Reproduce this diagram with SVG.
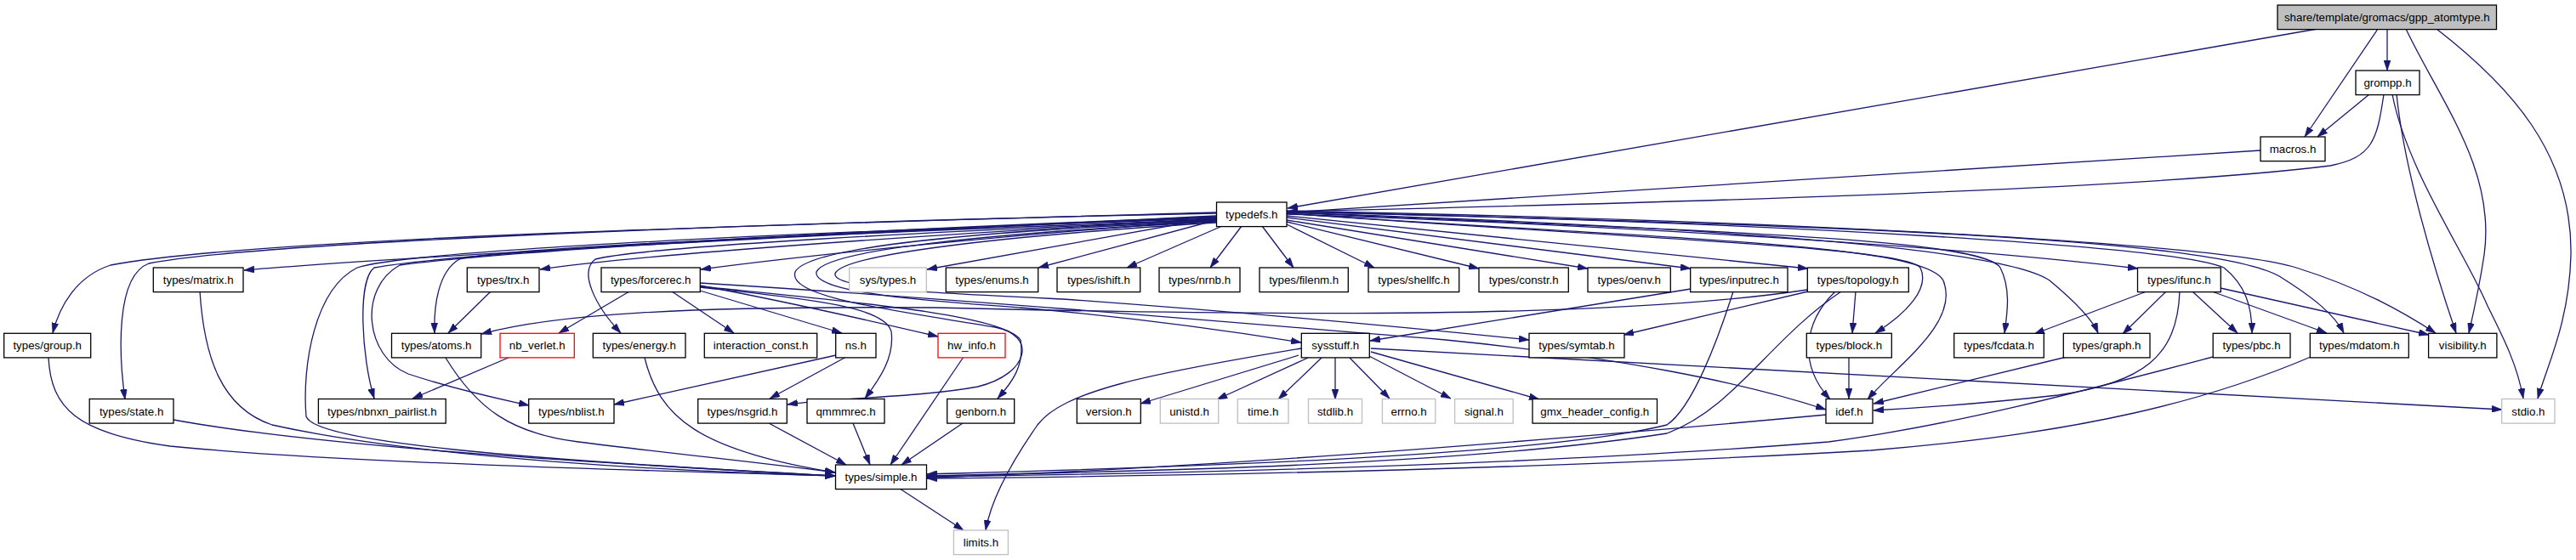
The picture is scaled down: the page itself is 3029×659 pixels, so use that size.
<svg xmlns="http://www.w3.org/2000/svg" width="3029" height="659" viewBox="0 0 3029 659">
<style>
rect{fill:#fff;stroke:#000;stroke-width:1.3}
rect.g{stroke:#bfbfbf}
rect.r{stroke:#ff0000}
rect.top{fill:#bfbfbf}
text{font-family:"Liberation Sans",Arial,sans-serif;font-size:13.3px;fill:#000;text-anchor:middle}
#edges path{fill:none;stroke:#191970;stroke-width:1.3;marker-end:url(#ah)}
</style>
<defs>
<marker id="ah" viewBox="0 0 12 8" markerWidth="12" markerHeight="8" markerUnits="userSpaceOnUse" refX="12" refY="4" orient="auto">
<path d="M0,0 L12,4 L0,8 z" fill="#191970" stroke="#191970" stroke-width="0.6"/>
</marker>
</defs>
<rect x="0" y="0" width="3029" height="659" style="fill:#fff;stroke:none"/>
<g id="edges">
<path d="M2725,34 L1514,245"/>
<path d="M2807,34 L2807,83"/>
<path d="M2796,34 L2710,161"/>
<path d="M2829,34 C2870,120 2935,200 2921,300 C2915,340 2908,370 2903,392"/>
<path d="M2865,34 C2950,100 3025,180 3023,300 C3021,380 2995,430 2984,469"/>
<path d="M2786,111 L2725,161"/>
<path d="M2803,111 C2795,165 2790,185 2740,195 C2500,225 1900,240 1514,249"/>
<path d="M2818,111 C2825,180 2850,280 2888,392"/>
<path d="M2813,111 C2830,200 2900,300 2925,360 C2945,400 2960,430 2967,469"/>
<path d="M2658,177 L1514,250"/>
<path d="M1484,266 L1521,315"/>
<path d="M1460,266 L1423,315"/>
<path d="M1437,266 L1325,315"/>
<path d="M1430,259 L1221,315"/>
<path d="M1430,256 L1090,317"/>
<path d="M1513,264 L1616,315"/>
<path d="M1513,261 L1739,316"/>
<path d="M1513,259 L1867,316"/>
<path d="M1513,256 L1988,316"/>
<path d="M1513,254 L2126,316"/>
<path d="M1513,252 C1900,265 2300,290 2514,316"/>
<path d="M1513,251 C1900,280 2240,290 2258,315 C2270,340 2240,370 2205,392"/>
<path d="M1513,251 C1950,282 2260,285 2285,330 C2305,380 2230,430 2196,470"/>
<path d="M1513,250 C2000,272 2330,280 2352,315 C2365,340 2360,370 2357,392"/>
<path d="M1513,250 C2050,268 2360,295 2410,330 C2440,355 2460,375 2467,392"/>
<path d="M1513,249 C2100,262 2560,290 2615,315 C2640,335 2648,360 2648,392"/>
<path d="M1513,249 C2150,265 2600,280 2680,325 C2720,350 2745,370 2756,392"/>
<path d="M1513,248 C2200,262 2620,290 2700,315 C2780,340 2830,370 2864,392"/>
<path d="M1430,250 C900,265 300,280 130,312 C90,325 70,360 62,392"/>
<path d="M1430,251 C900,262 300,285 175,310 C135,325 140,420 147,470"/>
<path d="M1430,254 C1000,275 500,300 287,318"/>
<path d="M1430,255 C900,275 520,300 440,315 C420,330 425,420 440,469"/>
<path d="M1430,256 C900,275 560,300 470,312 C420,340 430,420 480,440 C540,460 590,470 622,477"/>
<path d="M1430,257 C900,275 480,295 420,315 C370,340 355,430 360,490 C370,520 600,540 982,560"/>
<path d="M1430,258 C1000,275 600,290 540,305 C515,320 510,360 511,392"/>
<path d="M1430,258 C1100,275 750,300 635,317"/>
<path d="M1430,259 C1200,275 950,300 824,317"/>
<path d="M1430,259 C1100,272 760,290 700,305 C680,320 700,360 730,392"/>
<path d="M1430,260 C1150,272 950,290 935,320 C925,350 1050,365 1170,385 C1220,395 1210,440 1150,455 C1080,468 980,468 926,476"/>
<path d="M1430,261 C1150,275 970,295 960,320 C955,345 1100,355 1200,362 C1350,375 1450,390 1530,403"/>
<path d="M1430,262 C1170,278 990,300 982,322 C978,340 1100,345 1250,352 C1500,370 1700,390 1798,400"/>
<path d="M740,343 L657,392"/>
<path d="M790,343 L863,392"/>
<path d="M823,342 L990,392"/>
<path d="M823,336 C900,350 1000,372 1103,396"/>
<path d="M823,333 C1100,350 1400,375 1700,400 C1900,420 2050,450 2147,482"/>
<path d="M823,338 C950,352 1040,360 1048,390 C1052,420 1035,445 1017,469"/>
<path d="M823,337 C1000,355 1180,370 1200,400 C1205,430 1190,450 1173,469"/>
<path d="M995,420 L905,469"/>
<path d="M983,418 L722,476"/>
<path d="M600,420 L485,469"/>
<path d="M577,343 L527,392"/>
<path d="M2125,341 C1900,375 1500,372 1100,362 C800,360 650,370 566,393"/>
<path d="M2126,343 L1909,394"/>
<path d="M2182,343 L2178,392"/>
<path d="M2158,343 C2120,380 2115,430 2152,470"/>
<path d="M2165,343 C2080,400 2040,480 1960,510 C1700,550 1300,555 1090,560"/>
<path d="M1988,340 L1611,401"/>
<path d="M2038,343 C2020,400 1990,480 1960,500 C1800,540 1300,552 1090,558"/>
<path d="M2524,343 L2392,393"/>
<path d="M2547,343 L2496,393"/>
<path d="M2578,343 L2631,392"/>
<path d="M2601,343 L2736,392"/>
<path d="M2611,339 L2856,394"/>
<path d="M2563,343 C2560,420 2520,450 2420,465 C2330,475 2260,480 2203,483"/>
<path d="M2430,420 L2203,475"/>
<path d="M2174,421 L2174,469"/>
<path d="M2602,420 C2450,460 2300,500 2150,520 C1800,548 1400,557 1090,561"/>
<path d="M2717,420 C2600,470 2450,510 2200,530 C1800,553 1400,560 1090,563"/>
<path d="M2148,488 C1800,520 1400,552 1090,562"/>
<path d="M57,421 C60,480 90,510 200,525 C400,545 800,555 982,560"/>
<path d="M204,494 C400,530 800,550 982,560"/>
<path d="M235,343 C240,420 260,480 320,500 C500,540 800,555 982,560"/>
<path d="M524,421 C560,480 600,510 680,520 C800,535 900,545 982,556"/>
<path d="M758,421 C775,490 820,530 982,556"/>
<path d="M904,498 L995,547"/>
<path d="M1003,498 L1023,547"/>
<path d="M1133,420 L1047,547"/>
<path d="M1132,498 L1060,547"/>
<path d="M1058,575 L1133,624"/>
<path d="M1530,410 C1350,440 1250,460 1220,500 C1185,550 1165,590 1159,624"/>
<path d="M1527,418 L1341,475"/>
<path d="M1538,421 L1431,470"/>
<path d="M1554,421 L1503,470"/>
<path d="M1570,421 L1570,470"/>
<path d="M1587,421 L1634,469"/>
<path d="M1608,418 L1706,469"/>
<path d="M1612,414 L1810,470"/>
<path d="M1612,410 L2942,482"/>
</g>
<g id="gpp_atomtype"><rect class="top" x="2678" y="6" width="257.5" height="28.6"/><text x="2806.8" y="25">share/template/gromacs/gpp_atomtype.h</text></g>
<g id="grompp"><rect x="2770" y="83" width="75" height="28.6"/><text x="2807.5" y="102">grompp.h</text></g>
<g id="macros"><rect x="2658" y="161" width="76" height="28.6"/><text x="2696" y="180">macros.h</text></g>
<g id="typedefs"><rect x="1430.5" y="238" width="82.5" height="28.6"/><text x="1471.8" y="257">typedefs.h</text></g>
<g id="matrix"><rect x="180.3" y="315" width="105.7" height="28.6"/><text x="233.2" y="334">types/matrix.h</text></g>
<g id="trx"><rect x="549.3" y="315" width="84.7" height="28.6"/><text x="591.7" y="334">types/trx.h</text></g>
<g id="forcerec"><rect x="707" y="315" width="116.3" height="28.6"/><text x="765.2" y="334">types/forcerec.h</text></g>
<g id="systypes"><rect class="g" x="998.7" y="315" width="90.6" height="28.6"/><text x="1044" y="334">sys/types.h</text></g>
<g id="enums"><rect x="1112.3" y="315" width="108.4" height="28.6"/><text x="1166.5" y="334">types/enums.h</text></g>
<g id="ishift"><rect x="1243" y="315" width="97.7" height="28.6"/><text x="1291.9" y="334">types/ishift.h</text></g>
<g id="nrnb"><rect x="1363" y="315" width="95" height="28.6"/><text x="1410.5" y="334">types/nrnb.h</text></g>
<g id="filenm"><rect x="1481" y="315" width="104.3" height="28.6"/><text x="1533.2" y="334">types/filenm.h</text></g>
<g id="shellfc"><rect x="1609" y="315" width="106.7" height="28.6"/><text x="1662.4" y="334">types/shellfc.h</text></g>
<g id="constr"><rect x="1739" y="315" width="105.3" height="28.6"/><text x="1791.7" y="334">types/constr.h</text></g>
<g id="oenv"><rect x="1867" y="315" width="97.3" height="28.6"/><text x="1915.7" y="334">types/oenv.h</text></g>
<g id="inputrec"><rect x="1987.7" y="315" width="114.3" height="28.6"/><text x="2044.9" y="334">types/inputrec.h</text></g>
<g id="topology"><rect x="2125.3" y="315" width="119" height="28.6"/><text x="2184.8" y="334">types/topology.h</text></g>
<g id="ifunc"><rect x="2513.5" y="315" width="97.8" height="28.6"/><text x="2562.4" y="334">types/ifunc.h</text></g>
<g id="group"><rect x="4.7" y="392.3" width="102" height="28.6"/><text x="55.7" y="411.3">types/group.h</text></g>
<g id="atoms"><rect x="460.5" y="392.3" width="105.2" height="28.6"/><text x="513.1" y="411.3">types/atoms.h</text></g>
<g id="nb_verlet"><rect class="r" x="588" y="392.3" width="87.3" height="28.6"/><text x="631.7" y="411.3">nb_verlet.h</text></g>
<g id="energy"><rect x="697.3" y="392.3" width="108.7" height="28.6"/><text x="751.7" y="411.3">types/energy.h</text></g>
<g id="interaction_const"><rect x="828.3" y="392.3" width="132.4" height="28.6"/><text x="894.5" y="411.3">interaction_const.h</text></g>
<g id="ns"><rect x="982.7" y="392.3" width="47.3" height="28.6"/><text x="1006.4" y="411.3">ns.h</text></g>
<g id="hw_info"><rect class="r" x="1103" y="392.3" width="79" height="28.6"/><text x="1142.5" y="411.3">hw_info.h</text></g>
<g id="sysstuff"><rect x="1530.3" y="392.3" width="80" height="28.6"/><text x="1570.3" y="411.3">sysstuff.h</text></g>
<g id="symtab"><rect x="1798" y="392.3" width="112" height="28.6"/><text x="1854" y="411.3">types/symtab.h</text></g>
<g id="block"><rect x="2124.3" y="392.3" width="100" height="28.6"/><text x="2174.3" y="411.3">types/block.h</text></g>
<g id="fcdata"><rect x="2297.7" y="392.3" width="105.6" height="28.6"/><text x="2350.5" y="411.3">types/fcdata.h</text></g>
<g id="graph"><rect x="2426.3" y="392.3" width="101.7" height="28.6"/><text x="2477.2" y="411.3">types/graph.h</text></g>
<g id="pbc"><rect x="2602.2" y="392.3" width="90.8" height="28.6"/><text x="2647.6" y="411.3">types/pbc.h</text></g>
<g id="mdatom"><rect x="2716.3" y="392.3" width="116" height="28.6"/><text x="2774.3" y="411.3">types/mdatom.h</text></g>
<g id="visibility"><rect x="2855.6" y="392.3" width="80.3" height="28.6"/><text x="2895.8" y="411.3">visibility.h</text></g>
<g id="state"><rect x="105.2" y="469.5" width="98.8" height="28.6"/><text x="154.6" y="488.5">types/state.h</text></g>
<g id="nbnxn_pairlist"><rect x="374.4" y="469.5" width="149.8" height="28.6"/><text x="449.3" y="488.5">types/nbnxn_pairlist.h</text></g>
<g id="nblist"><rect x="621.7" y="469.5" width="100.3" height="28.6"/><text x="671.9" y="488.5">types/nblist.h</text></g>
<g id="nsgrid"><rect x="820.7" y="469.5" width="104.6" height="28.6"/><text x="873" y="488.5">types/nsgrid.h</text></g>
<g id="qmmmrec"><rect x="949" y="469.5" width="91" height="28.6"/><text x="994.5" y="488.5">qmmmrec.h</text></g>
<g id="genborn"><rect x="1113.7" y="469.5" width="79" height="28.6"/><text x="1153.2" y="488.5">genborn.h</text></g>
<g id="version"><rect x="1266.3" y="469.5" width="75" height="28.6"/><text x="1303.8" y="488.5">version.h</text></g>
<g id="unistd"><rect class="g" x="1364.3" y="469.5" width="68.4" height="28.6"/><text x="1398.5" y="488.5">unistd.h</text></g>
<g id="time"><rect class="g" x="1455.3" y="469.5" width="59.7" height="28.6"/><text x="1485.2" y="488.5">time.h</text></g>
<g id="stdlib"><rect class="g" x="1538.5" y="469.5" width="63" height="28.6"/><text x="1570" y="488.5">stdlib.h</text></g>
<g id="errno"><rect class="g" x="1625.4" y="469.5" width="62.4" height="28.6"/><text x="1656.6" y="488.5">errno.h</text></g>
<g id="signal"><rect class="g" x="1710.6" y="469.5" width="68.6" height="28.6"/><text x="1744.9" y="488.5">signal.h</text></g>
<g id="gmx_header_config"><rect x="1802" y="469.5" width="146.5" height="28.6"/><text x="1875.3" y="488.5">gmx_header_config.h</text></g>
<g id="idef"><rect x="2147" y="469.5" width="55" height="28.6"/><text x="2174.5" y="488.5">idef.h</text></g>
<g id="stdio"><rect class="g" x="2941.7" y="469.5" width="62.3" height="28.6"/><text x="2972.9" y="488.5">stdio.h</text></g>
<g id="simple"><rect x="982.5" y="547" width="107" height="28.6"/><text x="1036" y="566">types/simple.h</text></g>
<g id="limits"><rect class="g" x="1121.4" y="624" width="64" height="28.6"/><text x="1153.4" y="643">limits.h</text></g>
</svg>
